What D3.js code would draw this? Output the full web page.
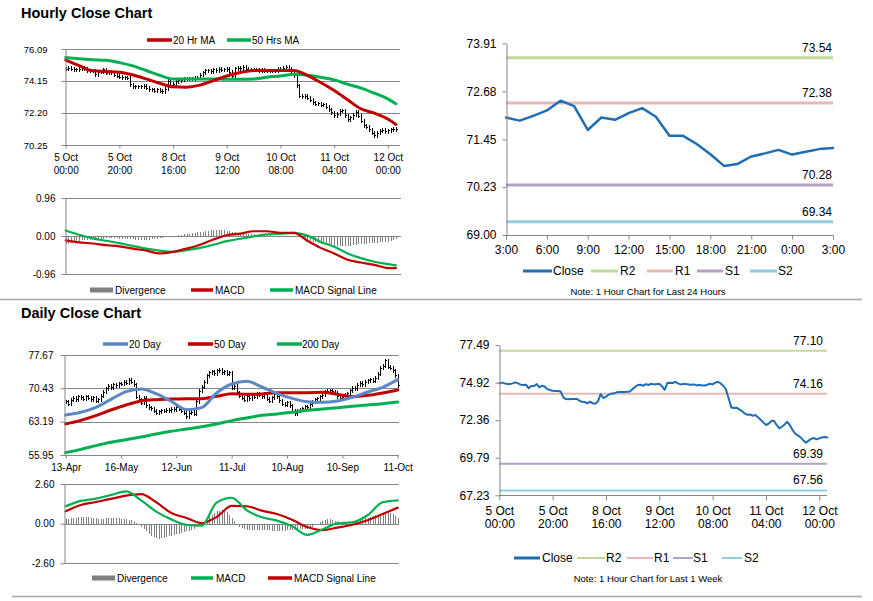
<!DOCTYPE html>
<html>
<head>
<meta charset="utf-8">
<script src="https://cdn.jsdelivr.net/npm/d3@7"></script>
<style>
body{margin:0;background:#fff;}
svg{display:block;}
</style>
</head>
<body>
<div id="chart"></div>
<script>
// ---- hourly (last week) data, one value per hour bar ----
var hourlyTicks = [0, 20, 40, 60, 80, 100, 120];
var hourlyTickLabels = [["5 Oct","00:00"],["5 Oct","20:00"],["8 Oct","16:00"],["9 Oct","12:00"],["10 Oct","08:00"],["11 Oct","04:00"],["12 Oct","00:00"]];
var hourlyClose = [
  74.87,74.92,74.87,74.82,74.82,74.87,74.94,74.87,74.78,74.76,
  74.78,74.53,74.69,74.69,74.82,74.60,74.71,74.66,74.48,74.42,
  74.37,74.35,74.35,74.32,73.91,73.80,73.78,73.80,73.80,73.82,
  73.69,73.62,73.60,73.51,73.62,73.51,73.48,73.64,74.14,73.87,
  73.96,74.10,74.17,74.19,74.26,74.28,74.28,74.28,74.30,74.32,
  74.48,74.64,74.76,74.78,74.71,74.82,74.76,74.85,74.80,74.82,
  74.85,74.68,74.42,74.89,74.92,74.89,74.98,74.87,74.80,74.82,
  74.82,74.80,74.78,74.80,74.73,74.78,74.73,74.73,74.78,74.85,
  74.80,74.92,74.98,74.87,74.71,74.46,73.85,73.23,73.19,73.21,
  73.10,72.98,72.82,72.73,72.75,72.66,72.71,72.55,72.39,72.21,
  72.03,72.12,72.30,72.32,72.03,71.80,71.91,72.07,72.25,72.00,
  71.69,71.43,71.32,71.18,70.98,70.82,70.96,71.09,71.14,71.05,
  71.12,71.18,71.21,71.18
];
// moving averages and MACD read every 5 bars
var hourlyIdx = [0,5,10,15,20,25,30,35,40,45,50,55,60,65,70,75,80,85,90,95,100,105,110,115,120,123];
var ma20Hr = [75.42,75.08,74.76,74.72,74.68,74.51,74.27,74.01,73.79,73.77,73.89,74.17,74.45,74.66,74.78,74.78,74.78,74.78,74.49,74.05,73.56,73.00,72.45,72.19,71.83,71.50];
var ma50Hr = [75.58,75.50,75.44,75.40,75.26,75.06,74.78,74.49,74.27,74.27,74.27,74.27,74.25,74.25,74.27,74.37,74.45,74.55,74.49,74.37,74.21,73.95,73.71,73.40,73.06,72.76];
var hourlyMacd = [-0.11,-0.16,-0.19,-0.23,-0.26,-0.32,-0.37,-0.44,-0.40,-0.32,-0.22,-0.09,0.02,0.06,0.12,0.12,0.08,0.08,-0.12,-0.30,-0.44,-0.60,-0.67,-0.73,-0.81,-0.81];
var hourlySignal = [0.14,0.03,-0.06,-0.12,-0.18,-0.25,-0.32,-0.37,-0.40,-0.36,-0.30,-0.22,-0.13,-0.07,-0.01,0.04,0.06,0.08,0.01,-0.15,-0.27,-0.44,-0.56,-0.65,-0.71,-0.74];
var hourlyDivergence = [
  -0.20,-0.19,-0.17,-0.15,-0.13, -0.12,-0.11,-0.10,-0.10,-0.09,
  -0.08,-0.08,-0.07,-0.07,-0.07, -0.06,-0.06,-0.06,-0.06,-0.06,
  -0.07,-0.07,-0.08,-0.08,-0.08, -0.08,-0.09,-0.09,-0.09,-0.09,
  -0.09,-0.09,-0.08,-0.08,-0.07, -0.06,-0.05,-0.03,-0.02,-0.01,
  0.00,0.01,0.02,0.03,0.04, 0.05,0.06,0.07,0.08,0.09,
  0.10,0.11,0.12,0.13,0.14, 0.15,0.15,0.15,0.14,0.14,
  0.13,0.12,0.10,0.09,0.08, 0.07,0.06,0.05,0.05,0.04,
  0.04,0.03,0.03,0.02,0.02, 0.02,0.02,0.01,0.01,0.01,
  0.01,0.01,0.00,0.00,0.00, 0.00,-0.01,-0.03,-0.05,-0.08,
  -0.10,-0.12,-0.14,-0.16,-0.18, -0.20,-0.21,-0.22,-0.23,-0.24,
  -0.25,-0.25,-0.26,-0.26,-0.25, -0.25,-0.24,-0.23,-0.22,-0.21,
  -0.20,-0.19,-0.19,-0.18,-0.18, -0.17,-0.17,-0.16,-0.16,-0.15,
  -0.14,-0.12,-0.10,-0.08
];

// ---- last 24 hours ----
var dayHourLabels = ["3:00","6:00","9:00","12:00","15:00","18:00","21:00","0:00","3:00"];
var dayClose = [72.01,71.93,72.05,72.19,72.44,72.30,71.69,72.01,71.95,72.12,72.25,72.03,71.54,71.54,71.33,71.07,70.77,70.82,71.01,71.09,71.18,71.06,71.13,71.20,71.23];

// pivot levels
var levelNames = ["R2","R1","S1","S2"];
var hourLevels = [73.54, 72.38, 70.28, 69.34];
var weekLevels = [77.10, 74.16, 69.39, 67.56];

// ---- daily data ----
var dailyTicks = [0, 22, 44, 66, 88, 110, 132];
var dailyTickLabels = ["13-Apr","16-May","12-Jun","11-Jul","10-Aug","10-Sep","11-Oct"];
var dailyClose = [
  67.5,67.0,67.8,68.3,68.0,68.6,68.4,68.1,68.6,68.3,
  67.9,68.4,67.6,67.9,68.7,69.6,70.3,70.9,70.6,71.2,
  71.0,71.4,71.3,71.7,71.5,72.2,71.7,71.2,68.5,68.0,
  67.2,68.3,66.7,66.2,66.0,65.5,65.0,65.3,65.6,65.4,
  65.7,65.6,65.9,65.8,66.2,65.9,65.4,65.0,64.3,65.0,
  65.2,64.8,67.5,69.8,70.7,71.8,73.2,73.8,74.0,73.6,
  74.2,74.4,73.8,74.0,73.5,73.8,70.4,70.9,69.5,68.7,
  68.3,67.8,68.6,68.2,69.0,68.5,69.3,68.9,68.6,69.3,
  68.1,67.6,68.4,69.0,68.6,67.7,67.0,66.8,67.3,66.6,
  65.5,64.9,65.4,65.7,66.0,66.4,66.2,66.9,67.5,67.9,
  68.2,68.6,68.9,69.6,69.8,69.9,69.7,69.4,68.6,68.2,
  68.5,68.9,69.3,69.9,70.5,70.3,71.1,71.5,71.2,71.8,
  72.1,72.3,72.0,72.6,73.5,74.8,75.2,76.4,75.0,74.8,
  74.3,73.2,71.0
];
// moving averages and MACD read every 6 days
var dailyIdx = [0,6,12,18,24,30,36,42,48,54,60,66,72,78,84,90,96,102,108,114,120,126,132];
var ma20Day = [64.64,65.22,66.30,68.04,69.71,70.29,69.27,67.61,65.80,66.23,69.42,71.37,71.95,70.72,69.34,68.26,67.53,67.39,67.68,68.48,69.63,70.65,72.31];
var ma50Day = [62.68,63.48,64.49,65.72,66.81,67.68,67.97,68.11,68.19,68.19,68.69,69.27,69.13,69.20,69.49,69.49,69.49,69.56,69.13,68.62,68.91,69.42,70.07];
var ma200Day = [56.46,57.18,57.98,58.70,59.28,59.86,60.51,61.09,61.60,62.10,62.68,63.41,63.99,64.57,64.86,65.22,65.65,65.94,66.23,66.52,66.81,67.10,67.46];
var dailyMacd = [1.14,1.49,1.64,1.88,2.12,1.53,0.79,0.28,-0.07,-0.13,1.38,1.70,0.87,0.42,0.20,-0.17,-0.74,-0.39,0.02,0.09,0.55,1.40,1.53];
var dailySignal = [0.81,1.22,1.42,1.62,1.84,1.94,1.40,0.70,0.37,0.04,0.44,1.16,1.14,0.85,0.63,0.26,-0.22,-0.42,-0.26,-0.07,0.22,0.63,1.05];
var dailyDivergence = [
  0.30,0.32,0.35,0.38,0.40,0.42, 0.45,0.45,0.44,0.42,0.40,0.38,
  0.35,0.33,0.32,0.33,0.34,0.34, 0.35,0.35,0.35,0.34,0.33,0.32,
  0.30,0.27,0.22,0.15,0.05,-0.05, -0.20,-0.35,-0.50,-0.65,-0.78,-0.88,
  -0.95,-0.98,-0.96,-0.92,-0.88,-0.84, -0.80,-0.75,-0.70,-0.65,-0.60,-0.55,
  -0.50,-0.45,-0.40,-0.33,-0.25,-0.15, -0.05,0.08,0.25,0.45,0.60,0.72,
  0.80,0.86,0.88,0.85,0.75,0.55, 0.35,0.15,-0.05,-0.20,-0.30,-0.36,
  -0.40,-0.42,-0.43,-0.44,-0.44,-0.43, -0.42,-0.42,-0.43,-0.44,-0.45,-0.46,
  -0.46,-0.46,-0.45,-0.45,-0.44,-0.43, -0.42,-0.40,-0.38,-0.36,-0.35,-0.34,
  -0.32,-0.28,-0.22,-0.12,0.00,0.12, 0.20,0.25,0.28,0.28,0.25,0.20,
  0.15,0.12,0.10,0.10,0.12,0.14, 0.17,0.20,0.24,0.28,0.32,0.36,
  0.40,0.45,0.50,0.55,0.60,0.64, 0.67,0.70,0.72,0.70,0.62,0.50,0.40
];

var FONT = '"Liberation Sans", Arial, Helvetica, sans-serif';
var GRID = "#868686";
var RED = "#c00000", GREEN = "#00b050", BLUE20 = "#5b87c4", CLOSE_BLUE = "#1f6db5", DIV_GRAY = "#7f7f7f";
var LEVEL_COLORS = ["#c3d69b", "#e6b9b8", "#b3a2c7", "#93cddd"];

var svg = d3.select("#chart").append("svg")
    .attr("width", 873).attr("height", 601)
    .attr("font-family", FONT);

function fmt2(d){ return d.toFixed(2); }

function styleAxis(g, size){
    g.attr("font-family", FONT);
    g.select(".domain").attr("stroke", GRID);
    g.selectAll(".tick line").attr("stroke", GRID);
    g.selectAll(".tick text").attr("fill", "#000").attr("font-size", size);
}

function yAxis(scale, x, ticks, size, pad){
    var g = svg.append("g").attr("transform", "translate(" + x + ",0)")
        .call(d3.axisLeft(scale).tickValues(ticks).tickFormat(fmt2)
            .tickSize(4).tickSizeOuter(0).tickPadding(pad));
    styleAxis(g, size);
    return g;
}

function xAxis(scale, y, ticks, labels, size, tickLen, pad, lineGap){
    var g = svg.append("g").attr("transform", "translate(0," + y + ")")
        .call(d3.axisBottom(scale).tickValues(ticks).tickFormat(function(d, i){ return [].concat(labels[i]).join(" "); })
            .tickSize(tickLen).tickSizeOuter(0).tickPadding(pad));
    styleAxis(g, size);
    g.select(".domain").remove();
    g.selectAll(".tick text").each(function(d, i){
        var parts = [].concat(labels[i]);
        if(parts.length < 2) return;
        var t = d3.select(this).text(null).attr("dy", null);
        parts.forEach(function(s, j){
            t.append("tspan").attr("x", 0).attr("dy", j == 0 ? "0.71em" : lineGap).text(s);
        });
    });
    return g;
}

function hLine(x0, x1, y, color, w){
    svg.append("line").attr("x1", x0).attr("x2", x1).attr("y1", y).attr("y2", y)
        .attr("stroke", color).attr("stroke-width", w || 1);
}

function gridLines(scale, ticks, x0, x1){
    svg.append("g").selectAll("line").data(ticks).enter().append("line")
        .attr("x1", x0).attr("x2", x1)
        .attr("y1", function(d){ return Math.round(scale(d)) + 0.5; })
        .attr("y2", function(d){ return Math.round(scale(d)) + 0.5; })
        .attr("stroke", GRID).attr("stroke-width", 1);
}

// close bars: vertical stroke from previous close to this close, tick to the right
function closeBars(data, x, y){
    var g = svg.append("g").attr("stroke", "#000").attr("stroke-width", 1)
        .attr("shape-rendering", "crispEdges");
    g.selectAll(".v").data(data).enter().append("line")
        .attr("x1", function(d, i){ return Math.round(x(i)) + 0.5; })
        .attr("x2", function(d, i){ return Math.round(x(i)) + 0.5; })
        .attr("y1", function(d, i){ return Math.min(y(i ? data[i - 1] : d), y(d)) - 2; })
        .attr("y2", function(d, i){ return Math.max(y(i ? data[i - 1] : d), y(d)) + 2; });
    g.selectAll(".h").data(data).enter().append("line")
        .attr("x1", function(d, i){ return Math.round(x(i)) + 0.5; })
        .attr("x2", function(d, i){ return Math.round(x(i)) + 2; })
        .attr("y1", function(d){ return y(d); })
        .attr("y2", function(d){ return y(d); });
}

function seriesLine(idx, vals, x, y, color, w){
    svg.append("path").datum(vals)
        .attr("fill", "none").attr("stroke", color).attr("stroke-width", w)
        .attr("stroke-linejoin", "round").attr("stroke-linecap", "round")
        .attr("d", d3.line()
            .x(function(d, i){ return x(idx ? idx[i] : i); })
            .y(function(d){ return y(d); })
            .curve(idx ? d3.curveMonotoneX : d3.curveLinear));
}

function divergenceBars(vals, x, y){
    svg.append("g").attr("shape-rendering", "crispEdges")
        .selectAll("rect").data(vals).enter().append("rect")
        .attr("x", function(d, i){ return Math.round(x(i)); })
        .attr("width", 1)
        .attr("y", function(d){ return Math.min(y(d), y(0)); })
        .attr("height", function(d){ return Math.abs(y(d) - y(0)); })
        .attr("fill", DIV_GRAY);
}

function legend(items, y, size){
    items.forEach(function(it){
        if(it.rect){
            svg.append("rect").attr("x", it.x).attr("y", y - 2.5).attr("width", it.w).attr("height", 5).attr("fill", it.color);
        } else {
            hLine(it.x, it.x + it.w, y, it.color, it.sw || 3.5);
        }
        svg.append("text").attr("x", it.tx).attr("y", y).attr("dy", "0.35em")
            .attr("font-size", size).attr("fill", "#000").text(it.label);
    });
}

function levelLines(levels, y, x0, x1, w, labelX, size){
    levels.forEach(function(v, k){
        hLine(x0, x1, y(v), LEVEL_COLORS[k], w);
        svg.append("text").attr("x", labelX).attr("y", y(v) - 6)
            .attr("text-anchor", "end").attr("font-size", size).attr("fill", "#000").text(fmt2(v));
    });
}

function title(text, y){
    svg.append("text").attr("x", 21).attr("y", y).attr("font-size", 14.5)
        .attr("font-weight", "bold").attr("fill", "#000").text(text);
}

// ===== section frames =====
title("Hourly Close Chart", 18);
title("Daily Close Chart", 318);
hLine(0, 862, 299.5, "#a6a6a6", 1.5);
hLine(12, 862, 596.5, "#a6a6a6", 1.5);

// ===== hourly close with MAs =====
var hx = d3.scaleLinear().domain([0, 123]).range([65.7, 395.9]);
var hy = d3.scaleLinear().domain([70.25, 76.09]).range([145, 49]);
var hyTicks = [76.09, 74.15, 72.20, 70.25];
gridLines(hy, hyTicks, 65, 400);
closeBars(hourlyClose, hx, hy);
seriesLine(hourlyIdx, ma50Hr, hx, hy, GREEN, 3);
seriesLine(hourlyIdx, ma20Hr, hx, hy, RED, 3);
yAxis(hy, 65.5, hyTicks, 9.5, 14);
xAxis(hx, 145.5, hourlyTicks, hourlyTickLabels, 10, 3, 5, "1.35em");
legend([
    {x: 147, w: 25, tx: 173, color: RED, label: "20 Hr MA"},
    {x: 227, w: 24, tx: 252, color: GREEN, label: "50 Hrs MA"}
], 40, 10);

// ===== hourly MACD =====
var mx = hx;
var my = d3.scaleLinear().domain([-0.96, 0.96]).range([274, 198]);
gridLines(my, [0.96, 0, -0.96], 65, 401);
divergenceBars(hourlyDivergence, mx, my);
seriesLine(hourlyIdx, hourlySignal, mx, my, GREEN, 2.2);
seriesLine(hourlyIdx, hourlyMacd, mx, my, RED, 2.2);
yAxis(my, 65.5, [0.96, 0, -0.96], 10, 6);
legend([
    {x: 90, w: 23, tx: 115, color: DIV_GRAY, rect: true, label: "Divergence"},
    {x: 191, w: 22, tx: 215, color: RED, label: "MACD"},
    {x: 270, w: 23, tx: 295, color: GREEN, label: "MACD Signal Line"}
], 290, 10);

// ===== last 24 hours with pivots =====
var cx = d3.scaleLinear().domain([0, 24]).range([506, 833]);
var cy = d3.scaleLinear().domain([69.00, 73.91]).range([235, 43.3]);
levelLines(hourLevels, cy, 506, 833, 3, 832, 12);
seriesLine(null, dayClose, cx, cy, CLOSE_BLUE, 2.5);
yAxis(cy, 506.5, [73.91, 72.68, 71.45, 70.23, 69.00], 12, 6);
hLine(506, 833, 235.5, GRID, 1);
xAxis(cx, 235.5, d3.range(0, 25, 3), dayHourLabels, 12, 4, 6, "1.1em");
legend([
    {x: 523, w: 29, tx: 553, color: CLOSE_BLUE, sw: 3, label: "Close"},
    {x: 591, w: 27, tx: 620, color: LEVEL_COLORS[0], sw: 3, label: levelNames[0]},
    {x: 647, w: 26, tx: 675, color: LEVEL_COLORS[1], sw: 3, label: levelNames[1]},
    {x: 697, w: 26, tx: 725, color: LEVEL_COLORS[2], sw: 3, label: levelNames[2]},
    {x: 750, w: 27, tx: 778, color: LEVEL_COLORS[3], sw: 3, label: levelNames[3]}
], 271, 12);
svg.append("text").attr("x", 648).attr("y", 292).attr("dy", "0.35em").attr("text-anchor", "middle")
    .attr("font-size", 9.5).attr("fill", "#000").text("Note: 1 Hour Chart for Last 24 Hours");

// ===== daily close with MAs =====
var dx = d3.scaleLinear().domain([0, 132]).range([65.7, 397.7]);
var dy = d3.scaleLinear().domain([55.95, 77.67]).range([455, 355]);
var dyTicks = [77.67, 70.43, 63.19, 55.95];
gridLines(dy, dyTicks, 64, 399);
closeBars(dailyClose, dx, dy);
seriesLine(dailyIdx, ma200Day, dx, dy, GREEN, 3);
seriesLine(dailyIdx, ma50Day, dx, dy, RED, 3);
seriesLine(dailyIdx, ma20Day, dx, dy, BLUE20, 3);
yAxis(dy, 64.5, dyTicks, 10, 7);
xAxis(dx, 455.5, dailyTicks, dailyTickLabels, 10, 3, 5, "1.2em");
legend([
    {x: 103, w: 25, tx: 129, color: BLUE20, label: "20 Day"},
    {x: 188, w: 25, tx: 214, color: RED, label: "50 Day"},
    {x: 277, w: 25, tx: 302, color: GREEN, label: "200 Day"}
], 344, 10);

// ===== daily MACD =====
var ey = d3.scaleLinear().domain([-2.6, 2.6]).range([563.3, 484]);
gridLines(ey, [2.6, 0, -2.6], 64, 399);
divergenceBars(dailyDivergence, dx, ey);
seriesLine(dailyIdx, dailySignal, dx, ey, RED, 2.2);
seriesLine(dailyIdx, dailyMacd, dx, ey, GREEN, 2.2);
yAxis(ey, 64.5, [2.6, 0, -2.6], 10, 6);
legend([
    {x: 92, w: 23, tx: 117, color: DIV_GRAY, rect: true, label: "Divergence"},
    {x: 191, w: 22, tx: 216, color: GREEN, label: "MACD"},
    {x: 268, w: 24, tx: 294, color: RED, label: "MACD Signal Line"}
], 578, 10);

// ===== last week hourly with pivots =====
var fx = d3.scaleLinear().domain([0, 123]).range([499.3, 827.3]);
var fy = d3.scaleLinear().domain([67.23, 77.49]).range([495.3, 345]);
levelLines(weekLevels, fy, 499, 827, 2, 823, 12);
seriesLine(null, hourlyClose, fx, fy, CLOSE_BLUE, 2);
yAxis(fy, 499.5, [77.49, 74.92, 72.36, 69.79, 67.23], 12, 6);
hLine(499, 827, 495.5, GRID, 1);
xAxis(fx, 495.5, hourlyTicks, hourlyTickLabels, 12, 5, 6, "1.1em");
legend([
    {x: 514, w: 26, tx: 542, color: CLOSE_BLUE, sw: 3, label: "Close"},
    {x: 577, w: 28, tx: 606, color: LEVEL_COLORS[0], sw: 2, label: levelNames[0]},
    {x: 627, w: 26, tx: 654, color: LEVEL_COLORS[1], sw: 2, label: levelNames[1]},
    {x: 673, w: 20, tx: 693, color: LEVEL_COLORS[2], sw: 2, label: levelNames[2]},
    {x: 722, w: 20, tx: 744, color: LEVEL_COLORS[3], sw: 2, label: levelNames[3]}
], 558, 12);
svg.append("text").attr("x", 648).attr("y", 578.5).attr("dy", "0.35em").attr("text-anchor", "middle")
    .attr("font-size", 9.5).attr("fill", "#000").text("Note: 1 Hour Chart for Last 1 Week");
</script>
</body>
</html>
